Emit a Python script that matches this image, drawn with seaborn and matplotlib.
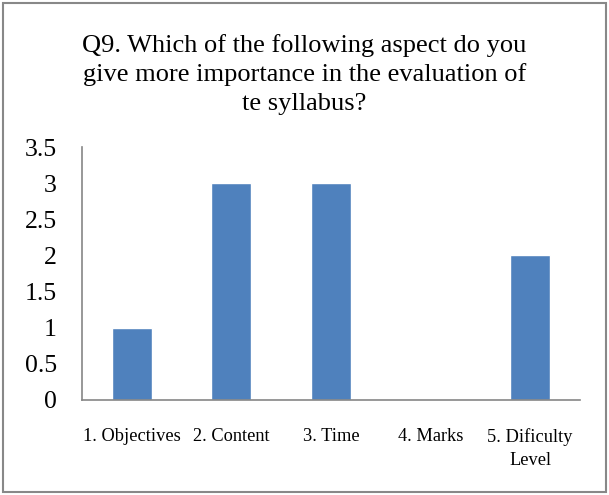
import matplotlib
matplotlib.use("Agg")
import matplotlib.pyplot as plt
import seaborn as sns
import pandas as pd
from matplotlib.patches import Rectangle

categories = ["1. Objectives", "2. Content", "3. Time", "4. Marks", "5. Dificulty\nLevel"]
values = [1, 3, 3, 0, 2]
y_ticks = [0, 0.5, 1, 1.5, 2, 2.5, 3, 3.5]
y_tick_labels = ["0", "0.5", "1", "1.5", "2", "2.5", "3", "3.5"]
title = "Q9. Which of the following aspect do you\ngive more importance in the evaluation of\nte syllabus?"

sns.set_style("white")
plt.rcParams["font.family"] = ["Liberation Serif", "DejaVu Serif"]
plt.rcParams["text.color"] = "black"

df = pd.DataFrame({"aspect": categories, "count": values})

fig = plt.figure(figsize=(6.09, 4.95), dpi=100)
ax = fig.add_axes([82 / 609, 1 - 400 / 495, (580 - 82) / 609, (400 - 147) / 495])

sns.barplot(data=df, x="aspect", y="count", color="#4F81BD", saturation=1,
            width=0.4, ax=ax)

ax.set_ylim(0, 3.5)
ax.set_xlim(-0.5, len(categories) - 0.5)
ax.set_yticks(y_ticks)
ax.set_yticklabels(y_tick_labels)
ax.set_xlabel("")
ax.set_ylabel("")

ax.tick_params(axis="y", length=0, pad=18, labelsize=18.5, colors="black")
ax.tick_params(axis="x", length=0, pad=20, labelsize=13.2, colors="black")
for lbl in ax.get_xticklabels():
    lbl.set_multialignment("center")
    lbl.set_linespacing(1.45)

for side in ("top", "right"):
    ax.spines[side].set_visible(False)
for side in ("left", "bottom"):
    ax.spines[side].set_color("#868686")
    ax.spines[side].set_linewidth(1.2)

fig.text(0.5, 1 - 34 / 495, title, ha="center", va="top", fontsize=19,
         linespacing=1.36, color="black")

fig.patches.append(Rectangle((3 / 609, 3 / 495), 603 / 609, 489 / 495,
                             transform=fig.transFigure, fill=False,
                             edgecolor="#888888", linewidth=1.5))

fig.savefig("out.png", dpi=100)
